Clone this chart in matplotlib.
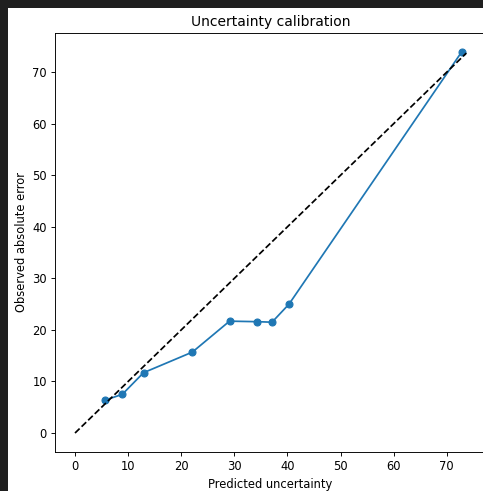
import matplotlib
matplotlib.use("Agg")
import matplotlib.pyplot as plt
from matplotlib.patches import Rectangle

pred_unc = [5.7, 8.9, 12.9, 22.1, 29.1, 34.3, 37.1, 40.3, 72.8]
obs_err = [6.4, 7.5, 11.7, 15.7, 21.7, 21.6, 21.5, 25.0, 73.9]
diag = [0, 73.7]

W, H = 483, 491
DPI = 83
fig = plt.figure(figsize=(W / DPI, H / DPI), dpi=DPI, facecolor="#1f1f1f")
fig.add_artist(Rectangle((8 / W, 0), 1, (H - 8) / H, transform=fig.transFigure,
                         facecolor="white", edgecolor="none", zorder=-10))

left, right, top, bottom = 55, 486, 33, 452
ax = fig.add_axes([left / W, (H - bottom) / H, (right - left) / W, (bottom - top) / H])
ax.plot(pred_unc, obs_err, marker="o", color="#1f77b4")
ax.plot(diag, diag, "k--")
ax.set_xlabel("Predicted uncertainty")
ax.set_ylabel("Observed absolute error")
ax.set_title("Uncertainty calibration")
ax.set_xticks(range(0, 80, 10))
ax.set_yticks(range(0, 80, 10))
ax.set_xlim(-3.77, 77.4)
ax.set_ylim(-3.68, 77.6)

fig.savefig("out.png", dpi=DPI, facecolor=fig.get_facecolor())
